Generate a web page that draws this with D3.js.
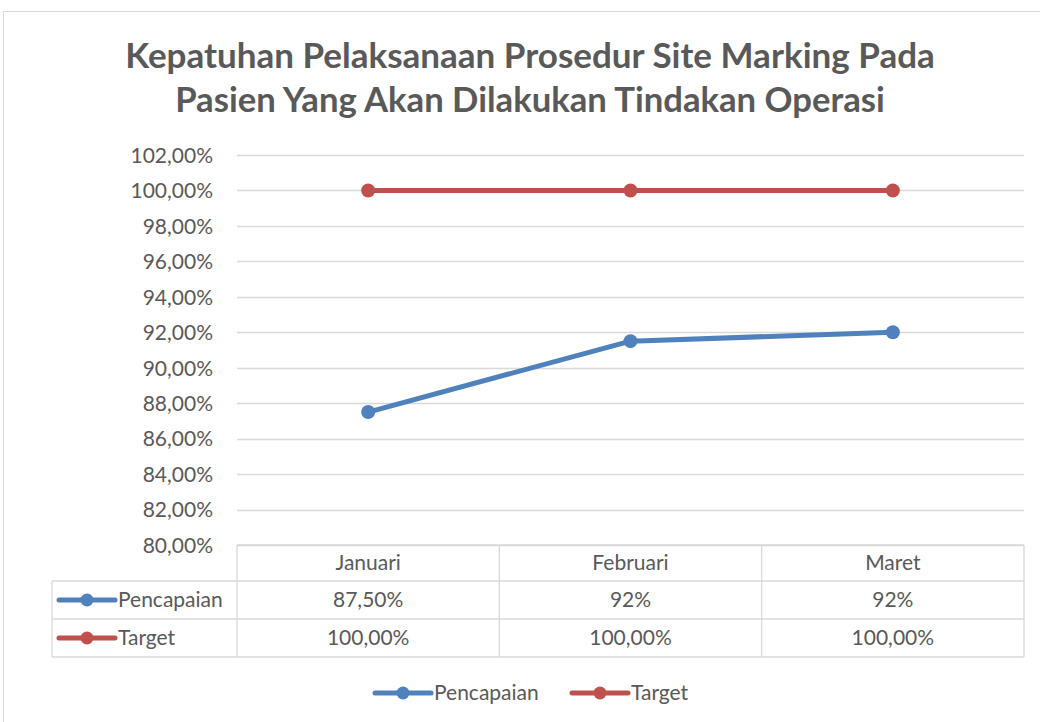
<!DOCTYPE html>
<html><head><meta charset="utf-8">
<script src="https://cdn.jsdelivr.net/npm/d3@7"></script>
<style>body{margin:0;background:#fff}svg{display:block}text{font-family:Lato,"Open Sans",sans-serif;fill:#595959}</style>
</head><body>
<svg id="c" width="1040" height="722"></svg>
<script>
const titleLines = ["Kepatuhan Pelaksanaan Prosedur Site Marking Pada","Pasien Yang Akan Dilakukan Tindakan Operasi"];
const categories = ["Januari","Februari","Maret"];
const pencapaian = [0.875, 0.915, 0.92];
const target = [1.0, 1.0, 1.0];
const pencapaianLabels = ["87,50%","92%","92%"];
const targetLabels = ["100,00%","100,00%","100,00%"];
const yTicks = [0.80,0.82,0.84,0.86,0.88,0.90,0.92,0.94,0.96,0.98,1.00,1.02];
const seriesNames = ["Pencapaian","Target"];
const seriesColors = ["#4f81bd","#c0504d"];

const svg = d3.select("#c");
const grid = "#d9d9d9";
const FS = 21;
svg.append("rect").attr("x",3.5).attr("y",11.5).attr("width",1100).attr("height",800).attr("fill","#fff").attr("stroke",grid);

// title
const tw = [810, 710];
titleLines.forEach((t,i)=>{
  const el = svg.append("text").attr("x",530).attr("y",68+i*44).attr("text-anchor","middle")
    .attr("font-size",30).attr("font-weight","bold").text(t);
  const w = el.node().getComputedTextLength();
  el.attr("font-size",30*tw[i]/w);
});

const L=237,R=1024,T=155,B=545;
const x = d3.scaleBand().domain(categories).range([L,R]);
const y = d3.scaleLinear().domain([0.80,1.02]).range([B,T]);
const fmt = v => d3.format(".2f")(v*100).replace(".",",")+"%";

// gridlines
svg.append("g").selectAll("line").data(yTicks).join("line")
  .attr("x1",L).attr("x2",R).attr("y1",d=>Math.round(y(d))+0.5).attr("y2",d=>Math.round(y(d))+0.5)
  .attr("stroke",grid).attr("stroke-width",1.3);

// y axis labels
const yAxis = d3.axisLeft(y).tickValues(yTicks).tickFormat(fmt).tickSize(0).tickPadding(0);
const ga = svg.append("g").attr("transform",`translate(${L-24},0)`).call(yAxis);
ga.select(".domain").remove();
ga.selectAll("text").attr("font-size",FS).attr("fill","#595959").style("font-family","Lato").attr("dy","0.35em");

// data table
const rowH=[545,581,619,657];
const tL=52;
const tg = svg.append("g").attr("stroke",grid).attr("stroke-width",1.3).attr("fill","none");
tg.append("line").attr("x1",L).attr("x2",R).attr("y1",rowH[0]).attr("y2",rowH[0]);
[1,2,3].forEach(i=>tg.append("line").attr("x1",tL).attr("x2",R).attr("y1",rowH[i]).attr("y2",rowH[i]));
tg.append("line").attr("x1",tL).attr("x2",tL).attr("y1",rowH[1]).attr("y2",rowH[3]);
categories.forEach(c=>tg.append("line").attr("x1",x(c)).attr("x2",x(c)).attr("y1",rowH[0]).attr("y2",rowH[3]));
tg.append("line").attr("x1",R).attr("x2",R).attr("y1",rowH[0]).attr("y2",rowH[3]);

const cellText = (cx,cy,t)=>svg.append("text").attr("x",cx).attr("y",cy).attr("text-anchor","middle").attr("dy","0.35em").attr("font-size",FS).text(t);
categories.forEach((c,i)=>{
  const cx = x(c)+x.bandwidth()/2;
  cellText(cx,(rowH[0]+rowH[1])/2,c);
  cellText(cx,(rowH[1]+rowH[2])/2,pencapaianLabels[i]);
  cellText(cx,(rowH[2]+rowH[3])/2,targetLabels[i]);
});

function legendKey(g,x0,cy,color){
  g.append("line").attr("x1",x0).attr("x2",x0+56).attr("y1",cy).attr("y2",cy).attr("stroke",color).attr("stroke-width",5).attr("stroke-linecap","round");
  g.append("circle").attr("cx",x0+28).attr("cy",cy).attr("r",6.5).attr("fill",color);
}
[0,1].forEach(i=>{
  const cy=(rowH[i+1]+rowH[i+2])/2;
  legendKey(svg,59,cy,seriesColors[i]);
  svg.append("text").attr("x",118).attr("y",cy).attr("dy","0.35em").attr("font-size",FS).text(seriesNames[i]);
});

// lines
const data=[pencapaian,target];
const line = d3.line().x((d,i)=>x(categories[i])+x.bandwidth()/2).y(d=>y(d));
data.forEach((s,k)=>{
  svg.append("path").datum(s).attr("d",line).attr("fill","none").attr("stroke",seriesColors[k]).attr("stroke-width",5).attr("stroke-linejoin","round").attr("stroke-linecap","round");
  svg.append("g").selectAll("circle").data(s).join("circle")
    .attr("cx",(d,i)=>x(categories[i])+x.bandwidth()/2).attr("cy",d=>y(d)).attr("r",7).attr("fill",seriesColors[k]);
});

// bottom legend
const lx=[375,572];
[0,1].forEach(i=>{
  legendKey(svg,lx[i],693,seriesColors[i]);
  svg.append("text").attr("x",lx[i]+59).attr("y",693).attr("dy","0.35em").attr("font-size",FS).text(seriesNames[i]);
});
</script>
</body></html>
